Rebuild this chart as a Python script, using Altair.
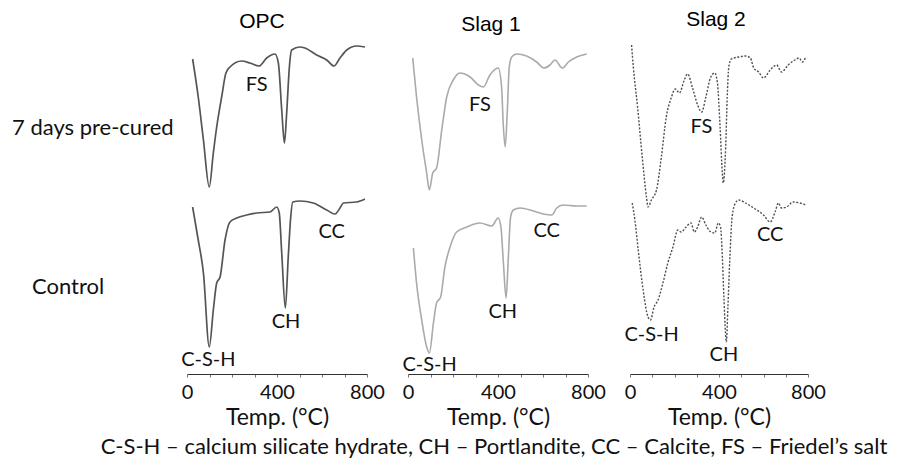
import altair as alt
import pandas as pd

# ---------------- data (DTG, arbitrary units) ----------------
materials = ["OPC", "Slag 1", "Slag 2"]
conditions = ["7 days pre-cured", "Control"]

opc_pre_T = [25, 50, 73, 99, 117, 132, 154, 173, 191, 243, 280, 320, 354, 391, 406, 421, 433, 443, 455, 465, 502, 524, 576, 621, 653, 680, 710, 754, 791]
opc_pre_dtg = [-0.14, -0.52, -0.95, -1.42, -1.08, -0.82, -0.52, -0.28, -0.22, -0.16, -0.18, -0.21, -0.13, -0.09, -0.18, -0.65, -0.98, -0.68, -0.22, -0.05, -0.02, -0.03, -0.10, -0.15, -0.21, -0.13, -0.05, -0.01, -0.02]

opc_ctl_T = [25, 50, 73, 99, 117, 132, 147, 169, 191, 221, 265, 310, 369, 399, 410, 421, 437, 450, 461, 470, 502, 561, 621, 658, 680, 695, 754, 791]
opc_ctl_dtg = [-0.07, -0.40, -0.73, -1.47, -1.10, -0.83, -0.77, -0.40, -0.22, -0.18, -0.15, -0.13, -0.12, -0.07, -0.13, -0.53, -1.08, -0.57, -0.17, -0.02, -0.01, -0.03, -0.10, -0.14, -0.08, -0.03, -0.02, 0.01]

slag1_pre_T = [21, 38, 61, 83, 95, 110, 127, 150, 172, 201, 231, 276, 313, 335, 364, 401, 416, 423, 432, 441, 450, 461, 483, 527, 572, 604, 631, 653, 686, 713, 750, 794]
slag1_pre_dtg = [-0.13, -0.52, -0.95, -1.28, -1.45, -1.28, -1.23, -0.85, -0.52, -0.35, -0.28, -0.32, -0.40, -0.42, -0.30, -0.23, -0.42, -0.78, -1.02, -0.68, -0.22, -0.12, -0.09, -0.11, -0.17, -0.23, -0.20, -0.15, -0.23, -0.17, -0.12, -0.09]

slag1_ctl_T = [24, 38, 61, 83, 95, 113, 127, 145, 164, 187, 216, 261, 320, 372, 401, 413, 424, 436, 446, 456, 468, 498, 557, 601, 639, 661, 690, 750, 794]
slag1_ctl_dtg = [-0.48, -0.83, -1.20, -1.47, -1.53, -1.23, -1.03, -0.97, -0.67, -0.47, -0.32, -0.27, -0.23, -0.26, -0.18, -0.27, -0.63, -0.98, -0.57, -0.17, -0.10, -0.08, -0.11, -0.14, -0.15, -0.08, -0.05, -0.06, -0.06]

slag2_pre_T = [7, 15, 34, 55, 74, 81, 96, 119, 141, 163, 185, 204, 222, 244, 259, 281, 304, 322, 341, 363, 381, 393, 404, 415, 419, 430, 437, 444, 455, 489, 519, 541, 556, 578, 600, 630, 659, 681, 711, 741, 760, 775, 790]
slag2_pre_dtg = [0.00, -0.22, -0.62, -1.12, -1.52, -1.62, -1.55, -1.45, -1.12, -0.72, -0.53, -0.44, -0.48, -0.35, -0.29, -0.43, -0.60, -0.67, -0.52, -0.32, -0.28, -0.38, -0.78, -1.28, -1.38, -1.02, -0.52, -0.22, -0.14, -0.12, -0.11, -0.13, -0.23, -0.27, -0.33, -0.25, -0.20, -0.27, -0.20, -0.15, -0.13, -0.17, -0.12]

slag2_ctl_T = [10, 22, 37, 59, 81, 92, 108, 126, 148, 170, 193, 215, 230, 252, 274, 289, 304, 322, 341, 363, 381, 397, 407, 415, 422, 433, 440, 449, 459, 474, 489, 519, 556, 600, 630, 652, 667, 681, 704, 733, 763, 790]
slag2_ctl_dtg = [-0.03, -0.20, -0.50, -0.90, -1.17, -1.20, -1.07, -1.00, -0.83, -0.63, -0.47, -0.30, -0.32, -0.27, -0.23, -0.32, -0.27, -0.17, -0.25, -0.32, -0.33, -0.23, -0.27, -0.57, -0.97, -1.42, -1.07, -0.57, -0.17, -0.03, 0.00, -0.03, -0.08, -0.15, -0.22, -0.12, -0.03, -0.08, -0.07, -0.02, -0.03, -0.05]

# peak annotations: (material index, condition index), label, T, dtg
ann_panel = [(0, 0), (1, 0), (2, 0), (0, 1), (0, 1), (0, 1), (1, 1), (1, 1), (1, 1), (2, 1), (2, 1), (2, 1)]
ann_text = ["FS", "FS", "FS", "C-S-H", "CH", "CC", "C-S-H", "CH", "CC", "C-S-H", "CH", "CC"]
ann_T = [310, 320, 321, 95, 440, 643, 96, 421, 616, 97, 422, 630]
ann_dtg = [-0.40, -0.60, -0.82, -1.60, -1.22, -0.32, -1.65, -1.12, -0.31, -1.35, -1.55, -0.35]

footnote = "C-S-H \u2013 calcium silicate hydrate, CH \u2013 Portlandite, CC \u2013 Calcite, FS \u2013 Friedel\u2019s salt"

series = {
    (0, 0): (opc_pre_T, opc_pre_dtg), (0, 1): (opc_ctl_T, opc_ctl_dtg),
    (1, 0): (slag1_pre_T, slag1_pre_dtg), (1, 1): (slag1_ctl_T, slag1_ctl_dtg),
    (2, 0): (slag2_pre_T, slag2_pre_dtg), (2, 1): (slag2_ctl_T, slag2_ctl_dtg),
}

# ---------------- layout / style ----------------
W, H = 908, 374
X_RANGES = [[187, 367], [408, 588], [630, 808]]
Y_RANGES = [[225, 25], [380, 180]]
STYLES = [
    dict(color="#555555", strokeWidth=1.7),
    dict(color="#aaaaaa", strokeWidth=1.6),
    dict(color="#505050", strokeWidth=1.4, strokeDash=[2, 1.6]),
]
LBL_FONT = "Lato"
TITLE_FONT = "Liberation Sans"


def xs(c):
    return alt.Scale(domain=[0, 800], range=X_RANGES[c], nice=False, zero=False)


def ys(r):
    return alt.Scale(domain=[-1.8, 0.2], range=Y_RANGES[r], nice=False, zero=False)


layers = []
for (c, r), (tv, dv) in series.items():
    df = pd.DataFrame({"T": tv, "DTG": dv})
    if r == 1:
        ax = alt.Axis(
            orient="bottom", values=list(range(0, 801, 100)),
            labelExpr="datum.value % 400 == 0 ? datum.label : ''",
            title="Temp. (\u00b0C)", grid=False,
            domainColor="#333333", domainWidth=1, tickColor="#777777", tickSize=3,
            labelFont=LBL_FONT, labelFontSize=20, labelColor="#111111", labelPadding=5,
            labelFlush=False, labelOverlap=False,
            titleFont=LBL_FONT, titleFontSize=23, titleFontWeight="normal",
            titleColor="#111111", titlePadding=4,
        )
    else:
        ax = None
    line = alt.Chart(df).mark_line(interpolate="monotone", clip=False, **STYLES[c]).encode(
        x=alt.X("T:Q", scale=xs(c), axis=ax),
        y=alt.Y("DTG:Q", scale=ys(r), axis=None),
    )
    layers.append(line)

for (c, r), txt, t, d in zip(ann_panel, ann_text, ann_T, ann_dtg):
    df = pd.DataFrame({"T": [t], "DTG": [d], "label": [txt]})
    layers.append(
        alt.Chart(df).mark_text(font=LBL_FONT, fontSize=20, color="#111111",
                                align="center", baseline="middle").encode(
            x=alt.X("T:Q", scale=xs(c), axis=None),
            y=alt.Y("DTG:Q", scale=ys(r), axis=None),
            text="label:N",
        )
    )


def static_text(txt, x, y, font, size, align="center", baseline="alphabetic", color="#111111"):
    return alt.Chart(pd.DataFrame({"t": [txt]})).mark_text(
        font=font, fontSize=size, color=color, align=align, baseline=baseline
    ).encode(x=alt.value(x), y=alt.value(y), text="t:N")


layers.append(static_text(materials[0], 262, 28, TITLE_FONT, 21, color="#000000"))
layers.append(static_text(materials[1], 491, 31, TITLE_FONT, 21, color="#000000"))
layers.append(static_text(materials[2], 716, 26, TITLE_FONT, 21, color="#000000"))
layers.append(static_text(conditions[0], 12, 128, LBL_FONT, 22, align="left", baseline="middle"))
layers.append(static_text(conditions[1], 32, 287, LBL_FONT, 22, align="left", baseline="middle"))
layers.append(static_text(footnote, 494, 447, LBL_FONT, 22, baseline="middle"))

chart = alt.layer(*layers).resolve_scale(x="independent", y="independent").properties(
    width=W, height=H,
    autosize=alt.AutoSizeParams(type="none"),
    padding={"left": 0, "top": 0, "right": 0, "bottom": 93},
    background="white",
).configure_view(stroke=None)

chart.save("out.html", embed_options={"renderer": "svg", "actions": False})
